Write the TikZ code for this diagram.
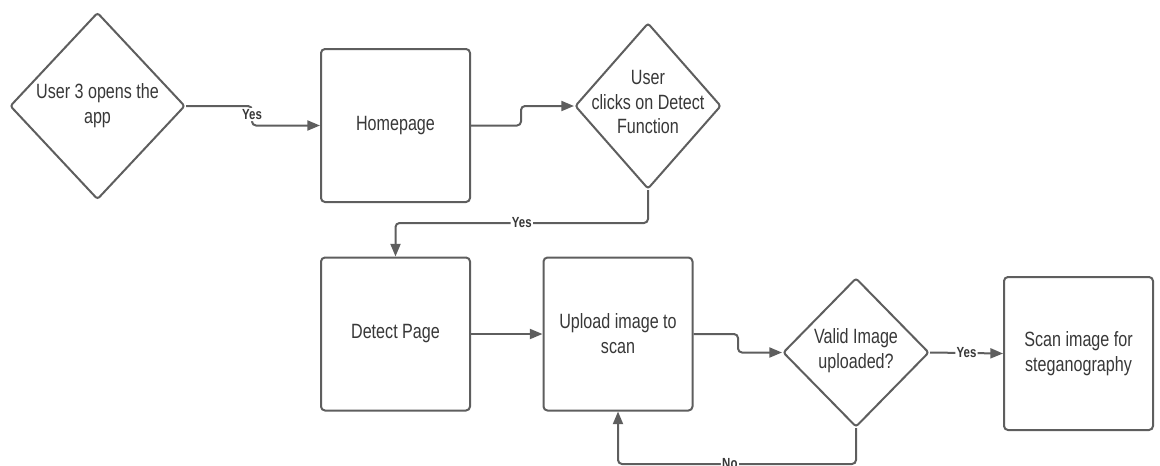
\documentclass[tikz,border=0pt]{standalone}
\usepackage{fontspec}
\setmainfont{Liberation Sans}[FakeStretch=0.78]
\usetikzlibrary{shapes.geometric,arrows.meta}
\definecolor{edgegray}{HTML}{5E5E5E}
\definecolor{ink}{HTML}{383838}
\begin{document}
\begin{tikzpicture}[
  x=0.75pt, y=-0.75pt,
  font=\fontsize{15.5}{18.7}\selectfont,
  stepbox/.style={draw=edgegray, line width=1.5pt, rounded corners=3pt,
    minimum width=111.75pt, minimum height=114.75pt, inner sep=0pt,
    align=center, text=ink, fill=white},
  decision/.style={diamond, draw=edgegray, line width=1.5pt, rounded corners=2pt,
    inner sep=0pt, fill=white},
  dtext/.style={align=center, text=ink, inner sep=0pt},
  flow/.style={draw=edgegray, line width=1.5pt, rounded corners=3pt,
    -{Triangle[length=9.5pt,width=7.5pt]}},
  lbl/.style={fill=white, text=ink, inner sep=1pt,
    font=\fontsize{11}{13}\selectfont\bfseries}
]
\clip (0,0) rectangle (1160,465);

% decisions
\node[decision, minimum width=131.25pt, minimum height=140.25pt,
  label={[dtext]center:User 3 opens the\\app}] (open) at (97.5,106) {};
\node[decision, minimum width=109.5pt, minimum height=124.5pt,
  label={[dtext, yshift=3pt]center:User\\clicks on Detect\\Function}] (click) at (648,106) {};
\node[decision, minimum width=109.5pt, minimum height=111.75pt,
  label={[dtext, yshift=1.5pt]center:Valid Image\\uploaded?}] (valid) at (856,352.5) {};

% process boxes
\node[stepbox] (home)   at (395.5,125.5) {Homepage};
\node[stepbox] (detect) at (395.5,334)   {Detect Page};
\node[stepbox] (upload) at (618,334)     {Upload image to\\scan};
\node[stepbox] (scan)   at (1078.5,353.5) {Scan image for\\steganography};

% bend points of the connectors
\coordinate (k1) at (252,0);
\coordinate (k2) at (521,0);
\coordinate (k3) at (0,223);
\coordinate (k5) at (738,0);
\coordinate (k7) at (0,464);

% connectors
\draw[flow] (open.east) -| node[lbl, pos=0.72]{Yes} (k1 |- home.west) -- (home.west);
\draw[flow] (home.east) -- (k2 |- home.east) -- (k2 |- click.west) -- (click.west);
\draw[flow] (click.south) |- node[lbl, pos=0.75]{Yes} (detect.north |- k3) -- (detect.north);
\draw[flow] (detect.east) -- (upload.west);
\draw[flow] (upload.east) -- (k5 |- upload.east) -- (k5 |- valid.west) -- (valid.west);
\draw[flow] (valid.east) -- node[lbl]{Yes} (scan.west);
\draw[flow] (valid.south) -- (valid.south |- k7) -- node[lbl, pos=0.53]{No} (upload.south |- k7) -- (upload.south);
\end{tikzpicture}
\end{document}
